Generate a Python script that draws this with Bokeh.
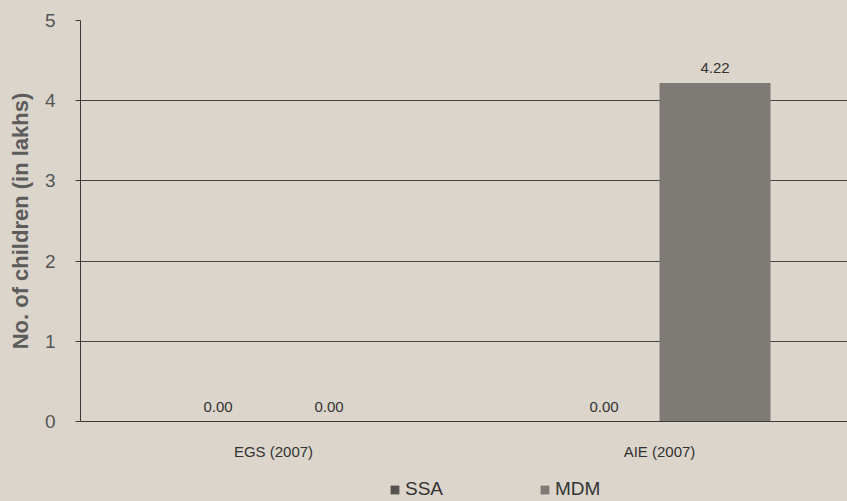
from bokeh.plotting import figure
from bokeh.layouts import column
from bokeh.models import Range1d, FixedTicker, Legend, LegendItem, ColumnDataSource
from bokeh.core.properties import value
from bokeh.embed import file_html
from bokeh.resources import INLINE

categories = ["EGS (2007)", "AIE (2007)"]
series = ["SSA", "MDM"]
ssa_values = [0.00, 0.00]
mdm_values = [0.00, 4.22]
y_ticks = [0, 1, 2, 3, 4, 5]

BG = "#dbd5cb"
SSA_COLOR = "#555350"
MDM_COLOR = "#7e7a76"
BAR_W = 0.2876
OFF = 0.1438
FONT = "Liberation Sans"

p = figure(width=847, height=465, output_backend="svg", toolbar_location=None,
           x_range=Range1d(0, 1.987), y_range=Range1d(0, 5))
p.background_fill_color = BG
p.border_fill_color = BG
p.outline_line_color = None
p.min_border_left = 80
p.min_border_top = 20
p.min_border_right = 0
p.min_border_bottom = 44

idx = list(range(len(categories)))
src = ColumnDataSource(dict(
    ssa_x=[i + 0.5 - OFF for i in idx],
    mdm_x=[i + 0.5 + OFF for i in idx],
    ssa=ssa_values, mdm=mdm_values,
    ssa_lbl=[f"{v:.2f}" for v in ssa_values],
    mdm_lbl=[f"{v:.2f}" for v in mdm_values],
))

p.vbar(x="ssa_x", top="ssa", width=BAR_W, bottom=0, source=src,
       fill_color=SSA_COLOR, line_color=None)
p.vbar(x="mdm_x", top="mdm", width=BAR_W, bottom=0, source=src,
       fill_color=MDM_COLOR, line_color=None)

for xcol, ycol, lcol in [("ssa_x", "ssa", "ssa_lbl"), ("mdm_x", "mdm", "mdm_lbl")]:
    p.text(x=xcol, y=ycol, text=lcol, source=src, text_align="center",
           text_baseline="bottom", y_offset=-10, text_font=value(FONT),
           text_font_size="15px", text_color="#333333")

# grid
p.xgrid.grid_line_color = None
p.ygrid.grid_line_color = "#454545"
p.ygrid.grid_line_width = 1

# y axis
ya = p.yaxis[0]
ya.ticker = FixedTicker(ticks=y_ticks)
ya.minor_tick_line_color = None
ya.major_tick_out = 5
ya.major_tick_in = 0
ya.major_tick_line_color = "#3a3a3a"
ya.axis_line_color = "#3a3a3a"
ya.major_label_text_font = FONT
ya.major_label_text_font_size = "19px"
ya.major_label_text_color = "#555555"
ya.major_label_standoff = 20
ya.axis_label = "No. of children (in lakhs)"
ya.axis_label_text_font = FONT
ya.axis_label_text_font_style = "bold"
ya.axis_label_text_font_size = "22px"
ya.axis_label_text_color = "#5c5c5c"
ya.axis_label_standoff = 9

# x axis
xa = p.xaxis[0]
xa.ticker = FixedTicker(ticks=[i + 0.5 for i in idx])
xa.major_label_overrides = {i + 0.5: c for i, c in zip(idx, categories)}
xa.minor_tick_line_color = None
xa.major_tick_line_color = None
xa.axis_line_color = "#3a3a3a"
xa.major_label_text_font = FONT
xa.major_label_text_font_size = "15px"
xa.major_label_text_color = "#333333"
xa.major_label_standoff = 15

# legend strip below the chart (its bars lie outside its visible range;
# they only supply the legend keys)
lg = figure(width=847, height=36, output_backend="svg", toolbar_location=None,
            x_axis_type=None, y_axis_type=None,
            x_range=Range1d(0, 1.987), y_range=Range1d(10, 11))
lg.background_fill_color = BG
lg.border_fill_color = BG
lg.outline_line_color = None
lg.min_border = 0
lg.grid.grid_line_color = None
k_ssa = lg.vbar(x="ssa_x", top="ssa", width=BAR_W, bottom=0, source=src,
                fill_color=SSA_COLOR, line_color=None)
k_mdm = lg.vbar(x="mdm_x", top="mdm", width=BAR_W, bottom=0, source=src,
                fill_color=MDM_COLOR, line_color=None)
legend = Legend(items=[LegendItem(label=series[0], renderers=[k_ssa]),
                       LegendItem(label=series[1], renderers=[k_mdm])],
                orientation="horizontal", location=(309, 1),
                glyph_width=11, glyph_height=11, label_standoff=5, spacing=96,
                label_text_font=FONT, label_text_font_size="19px",
                label_text_color="#333333", padding=0, margin=0,
                background_fill_alpha=0, border_line_color=None)
lg.add_layout(legend)

layout = column(p, lg, spacing=0, styles={"background-color": BG})
open("out.html", "w").write(file_html(layout, INLINE))
